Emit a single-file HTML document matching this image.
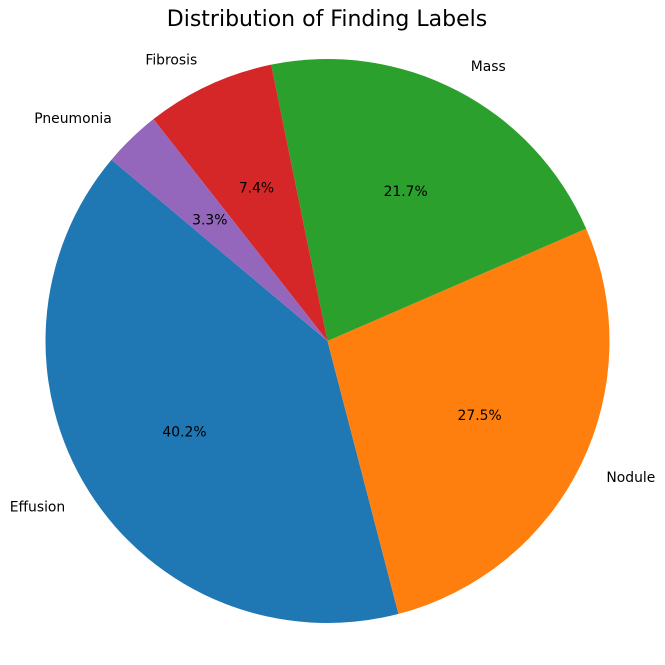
<!DOCTYPE html>
<html><head><meta charset="utf-8"><style>
body{margin:0;background:#fff;}
svg text{font-family:"DejaVu Sans","Liberation Sans",sans-serif;}
</style></head><body>
<svg id="chart" width="665" height="660" xmlns="http://www.w3.org/2000/svg">
<text x="327" y="26" text-anchor="middle" font-size="22">Distribution of Finding Labels</text>
<g id="slices"></g>
</svg>
<script>
const labels = ["Effusion","Nodule","Mass","Fibrosis","Pneumonia"];
const values = [40.2,27.5,21.7,7.4,3.3];
const colors = ["#1f77b4","#ff7f0e","#2ca02c","#d62728","#9467bd"];
const cx=327.5, cy=341, r=282, start=140;
const g=document.getElementById('slices');
const ns="http://www.w3.org/2000/svg";
const total=values.reduce((a,b)=>a+b,0);
let a0=start;
function pt(deg,rad){const t=deg*Math.PI/180;return [cx+rad*Math.cos(t), cy-rad*Math.sin(t)];}
values.forEach((v,i)=>{
  const span=v/total*360, a1=a0+span;
  const p0=pt(a0,r), p1=pt(a1,r);
  const path=document.createElementNS(ns,'path');
  path.setAttribute('d',`M${cx},${cy} L${p0[0]},${p0[1]} A${r},${r} 0 ${span>180?1:0} 0 ${p1[0]},${p1[1]} Z`);
  path.setAttribute('fill',colors[i]);
  
  
  g.appendChild(path);
  const mid=a0+span/2;
  const lp=pt(mid,r*1.1);
  const t=document.createElementNS(ns,'text');
  t.setAttribute('x',lp[0]);t.setAttribute('y',lp[1]+5);
  t.setAttribute('font-size','13.9');
  t.setAttribute('text-anchor',lp[0]>=cx?'start':'end');
  t.textContent=labels[i];
  
  
  g.appendChild(t);
  const pp=pt(mid,r*0.6);
  const p=document.createElementNS(ns,'text');
  p.setAttribute('x',pp[0]);p.setAttribute('y',pp[1]+5);
  p.setAttribute('font-size','13.9');
  p.setAttribute('text-anchor','middle');
  p.textContent=(v/total*100).toFixed(1)+'%';
  
  
  g.appendChild(p);
  a0=a1;
});
</script>
</body></html>
